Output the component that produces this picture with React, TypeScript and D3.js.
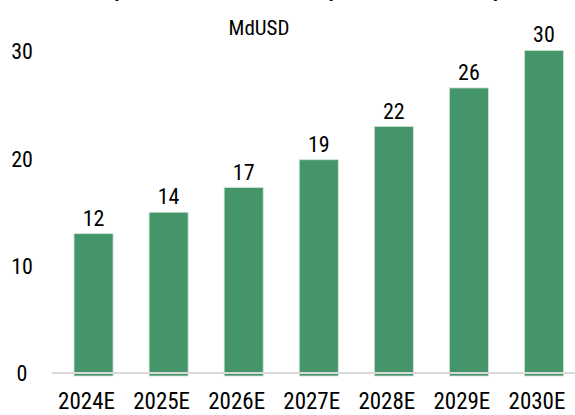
import React from "react";
import * as d3 from "d3";

const categories = ["2024E", "2025E", "2026E", "2027E", "2028E", "2029E", "2030E"];
const barValues = [13.0, 15.0, 17.3, 19.9, 23.0, 26.6, 30.1];
const valueLabels = ["12", "14", "17", "19", "22", "26", "30"];
const yTicks = [0, 10, 20, 30];
const title = "Taille potentielle du marché européen de la défense spatiale";
const unit = "MdUSD";

const W = 575;
const H = 415;
const FONT = "'Liberation Sans Narrow', 'Arial Narrow', 'Roboto Condensed', 'Liberation Sans', sans-serif";

export default function App() {
  const x = d3.scaleBand<string>().domain(categories).range([56, 581.5]).paddingInner(0.48).paddingOuter(0.24);
  const y = d3.scaleLinear().domain([0, 30]).range([373, 51.5]);
  return (
    <svg width={W} height={H} style={{ position: "absolute", left: 0, top: 0, background: "#fff" }}>
      <text x={307} y={-3} textAnchor="middle" fontFamily={FONT} fontWeight="bold" fontSize={20} fill="#000">
        {title}
      </text>
      <text x={259} y={35} textAnchor="middle" fontFamily={FONT} fontSize={21} fill="#000">
        {unit}
      </text>
      {yTicks.map((t) => (
        <text key={t} x={22} y={y(t)} dy="0.36em" textAnchor="middle" fontFamily={FONT} fontSize={22} fill="#000">
          {t}
        </text>
      ))}
      {categories.map((c, i) => (
        <g key={c}>
          <rect
            x={x(c)!}
            y={y(barValues[i])}
            width={x.bandwidth()}
            height={y(0) + 3 - y(barValues[i])}
            fill="#44956A"
            stroke="#cfe3d6"
            strokeWidth={0.8}
          />
          <text
            x={x(c)! + x.bandwidth() / 2}
            y={y(barValues[i]) - 8}
            textAnchor="middle"
            fontFamily={FONT}
            fontSize={22}
            fill="#000"
          >
            {valueLabels[i]}
          </text>
          <text
            x={x(c)! + x.bandwidth() / 2 - 7}
            y={409}
            textAnchor="middle"
            fontFamily={FONT}
            fontSize={23}
            fill="#000"
          >
            {c}
          </text>
        </g>
      ))}
      <line x1={52} x2={W} y1={y(0)} y2={y(0)} stroke="#d9d9d9" strokeWidth={2} />
    </svg>
  );
}
